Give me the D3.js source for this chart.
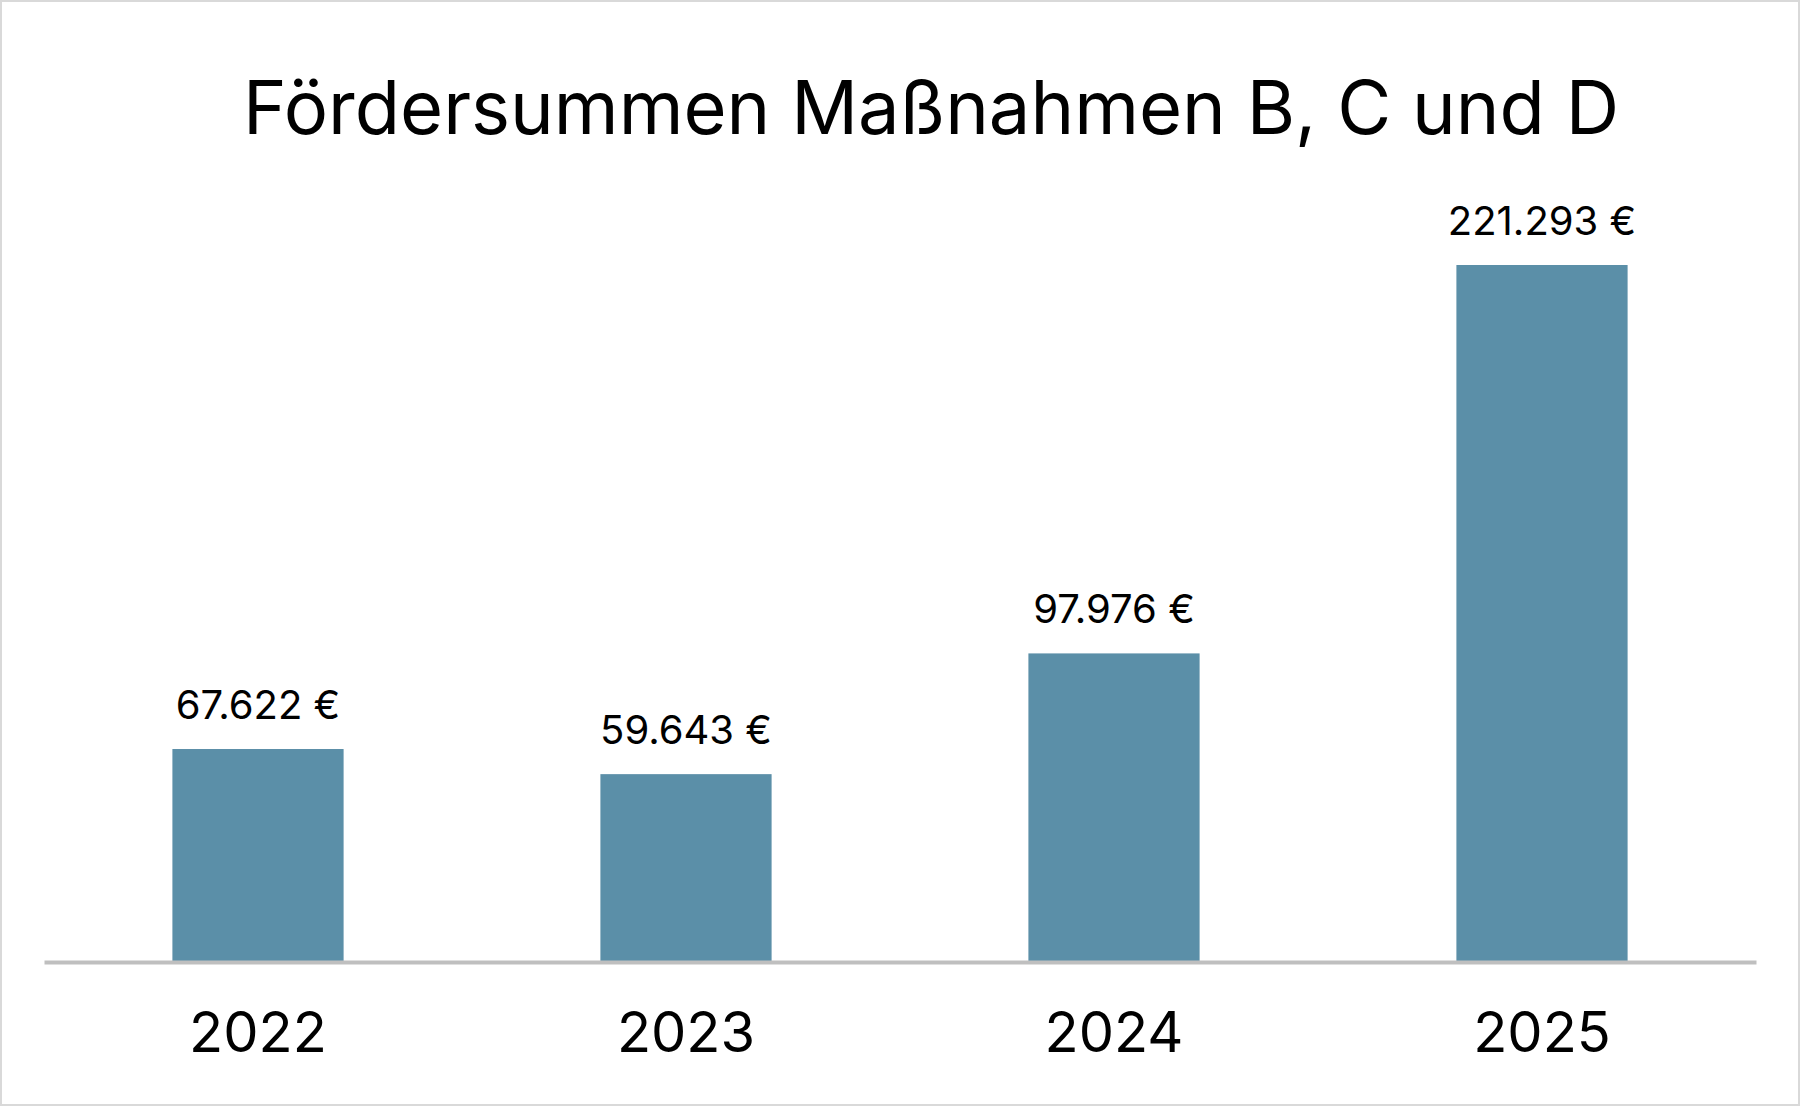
<!DOCTYPE html>
<html><head><meta charset="utf-8">
<script src="https://cdn.jsdelivr.net/npm/d3@7"></script>
<style>body{margin:0;background:#fff}</style></head>
<body><svg id="c" width="1800" height="1106"></svg>
<script>
const categories = ["2022","2023","2024","2025"];
const values = [67622, 59643, 97976, 221293];
const labels = ["67.622 €","59.643 €","97.976 €","221.293 €"];
const title = "Fördersummen Maßnahmen B, C und D";

const svg = d3.select("#c");
const font = "Inter, 'Open Sans', sans-serif";
svg.append("rect").attr("x",1).attr("y",1).attr("width",1798).attr("height",1104)
  .attr("fill","#fff").attr("stroke","#d9d9d9").attr("stroke-width",2);

const x = d3.scaleBand().domain(categories).range([44,1756]).paddingInner(0.6).paddingOuter(0.3);
const y = d3.scaleLinear().domain([0, 221293]).range([962, 265]);

svg.append("text").attr("x",931).attr("y",134).attr("text-anchor","middle")
  .attr("font-family",font).attr("font-size",74).attr("fill","#000").text(title);

svg.selectAll(".bar").data(values).join("rect")
  .attr("x",(d,i)=>x(categories[i])).attr("width",x.bandwidth())
  .attr("y",d=>y(d)).attr("height",d=>y(0)-y(d)).attr("fill","#5b8fa8");

svg.selectAll(".lbl").data(values).join("text")
  .attr("x",(d,i)=>x(categories[i])+x.bandwidth()/2).attr("y",d=>y(d)-30)
  .attr("text-anchor","middle").attr("font-family",font).attr("font-size",40)
  .text((d,i)=>labels[i]);

const ax = svg.append("g").attr("transform","translate(0,962)").call(d3.axisBottom(x).tickSize(0).tickPadding(50));
ax.select(".domain").attr("stroke","#bfbfbf").attr("stroke-width",4);
ax.selectAll("text").attr("font-family",font).attr("font-size",56).attr("fill","#000").attr("dy","0.71em");
</script></body></html>
